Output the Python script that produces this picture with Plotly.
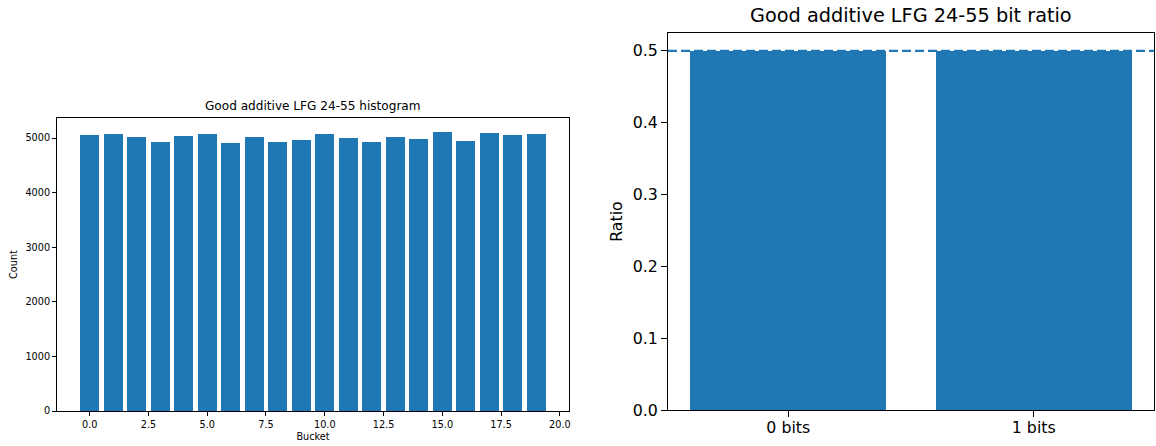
import plotly.graph_objects as go

# ---- data ----
buckets = list(range(20))
counts = [5057, 5075, 5021, 4929, 5039, 5075, 4911, 5021, 4929, 4966,
          5075, 4998, 4929, 5021, 4984, 5112, 4948, 5094, 5057, 5075]
bit_labels = ["0 bits", "1 bits"]
bit_ratios = [0.5, 0.5]
expected_ratio = 0.5

BLUE = "#1f77b4"
W, H = 1156, 446
FONT = "DejaVu Sans"

fig = go.Figure()
fig.add_trace(go.Bar(x=buckets, y=counts, width=0.8, marker=dict(color=BLUE, line=dict(width=0)),
                     xaxis="x", yaxis="y", showlegend=False))
fig.add_trace(go.Bar(x=[0, 1], y=bit_ratios, width=0.8, marker=dict(color=BLUE, line=dict(width=0)),
                     xaxis="x2", yaxis="y2", showlegend=False))

def px_x(p):
    return p / W

def px_y(p):
    return (H - p) / H

L_x0, L_x1, L_y0, L_y1 = 57, 569, 118, 411
R_x0, R_x1, R_y0, R_y1 = 668, 1154, 33, 410

ymax_left = max(counts) * 1.05
ymax_right = max(bit_ratios) * 1.05

axis_common = dict(showline=True, linecolor="black", linewidth=1, mirror=True,
                   showgrid=False, zeroline=False, ticks="outside", tickcolor="black",
                   automargin=False)

fig.update_layout(
    width=W, height=H,
    margin=dict(l=0, r=0, t=0, b=0, autoexpand=False),
    paper_bgcolor="white", plot_bgcolor="white",
    font=dict(family=FONT, color="black"),
    bargap=0,
    xaxis=dict(domain=[px_x(L_x0), px_x(L_x1)], range=[-1.39, 20.39], anchor="y",
               tickmode="linear", tick0=0, dtick=2.5, tickformat=".1f",
               ticklen=4, tickwidth=1, tickfont=dict(size=9.7, family=FONT),
               title=dict(text="Bucket", font=dict(size=9.7, family=FONT), standoff=4),
               **axis_common),
    yaxis=dict(domain=[px_y(L_y1), px_y(L_y0)], range=[0, ymax_left], anchor="x",
               tickmode="linear", tick0=0, dtick=1000,
               ticklen=4, tickwidth=1, tickfont=dict(size=9.7, family=FONT),
               title=dict(text="Count", font=dict(size=9.7, family=FONT), standoff=6),
               **axis_common),
    xaxis2=dict(domain=[px_x(R_x0), px_x(R_x1)], range=[-0.49, 1.49], anchor="y2",
                tickmode="array", tickvals=[0, 1], ticktext=bit_labels,
                ticklen=6, tickwidth=1, tickfont=dict(size=15.8, family=FONT),
                ticklabelstandoff=-3,
                **axis_common),
    yaxis2=dict(domain=[px_y(R_y1), px_y(R_y0)], range=[0, ymax_right], anchor="x2",
                tickmode="linear", tick0=0, dtick=0.1, tickformat=".1f",
                ticklen=6, tickwidth=1, tickfont=dict(size=15.8, family=FONT),
                title=dict(text="Ratio", font=dict(size=15.8, family=FONT), standoff=6),
                **axis_common),
    shapes=[dict(type="line", xref="x2 domain", yref="y2", x0=0, x1=1,
                 y0=expected_ratio, y1=expected_ratio, layer="above",
                 line=dict(color=BLUE, width=2.2, dash="9px,4px"))],
    annotations=[
        dict(text="Good additive LFG 24-55 histogram", xref="paper", yref="paper",
             x=(px_x(L_x0) + px_x(L_x1)) / 2, y=px_y(L_y0 - 3), xanchor="center", yanchor="bottom",
             showarrow=False, font=dict(size=12.1, family=FONT, color="black")),
        dict(text="Good additive LFG 24-55 bit ratio", xref="paper", yref="paper",
             x=(px_x(R_x0) + px_x(R_x1)) / 2, y=px_y(R_y0 - 4), xanchor="center", yanchor="bottom",
             showarrow=False, font=dict(size=19.3, family=FONT, color="black")),
    ],
)

fig.write_html("out.html")
